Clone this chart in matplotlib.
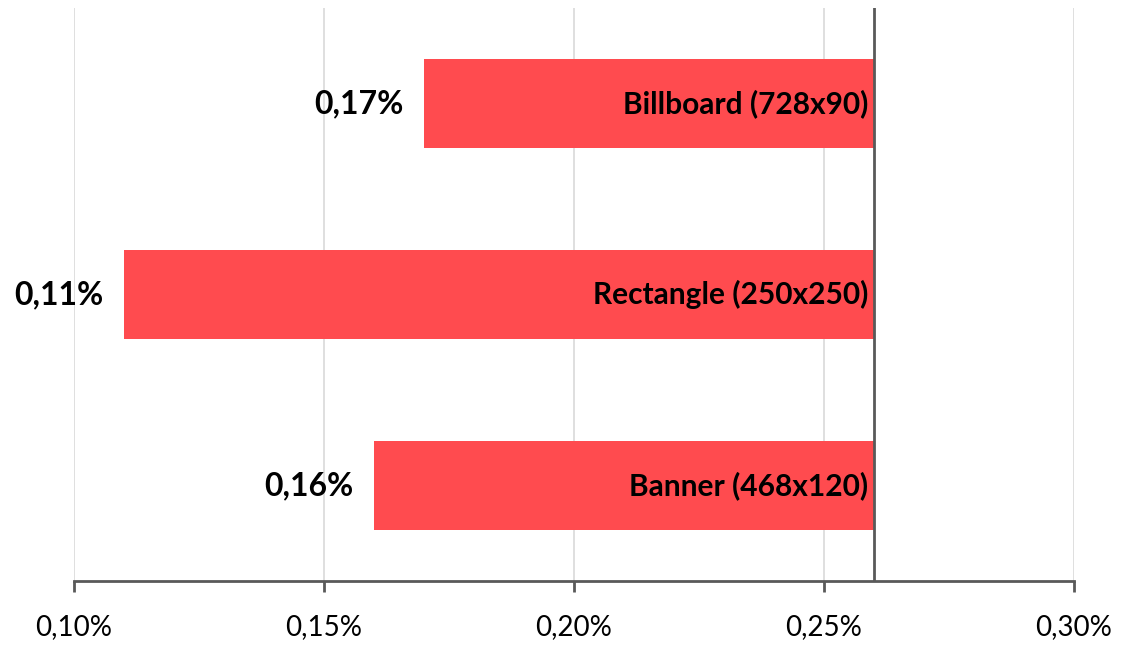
import matplotlib.pyplot as plt
from matplotlib.ticker import FuncFormatter

plt.rcParams["font.family"] = ["Lato", "DejaVu Sans"]

# data (values in %)
categories = ["Billboard (728x90)", "Rectangle (250x250)", "Banner (468x120)"]
values = [0.17, 0.11, 0.16]
value_labels = ["0,17%", "0,11%", "0,16%"]
base = 0.26
x_ticks = [0.10, 0.15, 0.20, 0.25, 0.30]

bar_color = "#FF4B4F"
axis_color = "#595959"

fig = plt.figure(figsize=(11.3, 6.46), dpi=100)
ax = fig.add_axes([74 / 1130, 1 - 581 / 646, 1000 / 1130, 573 / 646])

ypos = [2, 1, 0]
widths = [v - base for v in values]
ax.barh(ypos, widths, left=base, height=0.47, color=bar_color, zorder=2)

for y, v, lab, cat in zip(ypos, values, value_labels, categories):
    ax.annotate(lab, (v, y), xytext=(-15, 0), textcoords="offset points",
                ha="right", va="center", fontsize=23, fontweight="bold", color="black")
    ax.annotate(cat, (base, y), xytext=(-4, 0), textcoords="offset points",
                ha="right", va="center", fontsize=21.5, fontweight="bold", color="black")

ax.set_xlim(0.10, 0.30)
ax.set_ylim(-0.5, 2.5)
ax.set_xticks(x_ticks)
ax.xaxis.set_major_formatter(FuncFormatter(lambda x, p: f"{x:.2f}%".replace(".", ",")))
ax.set_yticks([])
ax.grid(axis="x", color="#D9D9D9", linewidth=1.2, zorder=0)

for s in ["top", "right", "left"]:
    ax.spines[s].set_visible(False)
ax.spines["bottom"].set_color(axis_color)
ax.spines["bottom"].set_linewidth(2)
ax.axvline(base, color=axis_color, linewidth=2, zorder=3)
ax.tick_params(axis="x", length=8, width=2, color=axis_color, labelsize=20, pad=16)

fig.savefig("out.png", dpi=100)
